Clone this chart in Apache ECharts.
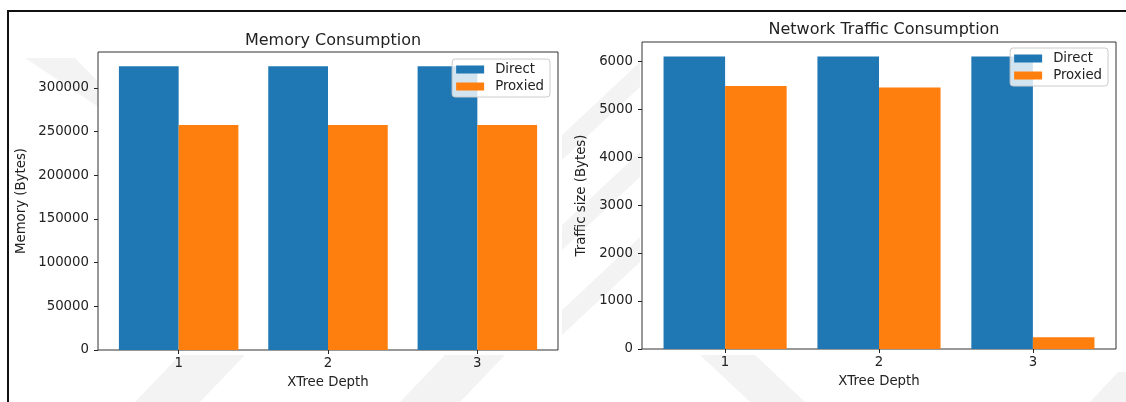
<!DOCTYPE html>
<html>
<head>
<meta charset="utf-8">
<script src="https://cdn.jsdelivr.net/npm/echarts@6/dist/echarts.min.js"></script>
<style>
  html, body { margin: 0; padding: 0; background: #fff; }
  #chart-container { width: 1126px; height: 402px; }
</style>
</head>
<body>
<div id="chart-container"></div>
<script>
// data
var depths = [1, 2, 3];
var memDirect = [325000, 325000, 325000];
var memProxied = [257700, 257700, 257700];
var netDirect = [6095, 6095, 6095];
var netProxied = [5485, 5452, 244];
var memTicks = [0, 50000, 100000, 150000, 200000, 250000, 300000];
var netTicks = [0, 1000, 2000, 3000, 4000, 5000, 6000];

var dom = document.getElementById('chart-container');
var myChart = echarts.init(dom, null, { renderer: 'canvas' });

var blue = '#1f77b4';
var orange = '#ff7f0e';
var ink = '#222';
var font = 'DejaVu Sans';

function pairs(xs, ys) {
  return xs.map(function (x, i) { return [x, ys[i]]; });
}

function xAxisFor(gridIndex) {
  return {
    type: 'value',
    gridIndex: gridIndex,
    min: 0.46,
    max: 3.54,
    name: 'XTree Depth',
    nameLocation: 'middle',
    nameGap: 26,
    nameTextStyle: { color: ink, fontFamily: font, fontSize: 13.3 },
    axisLine: { show: false },
    splitLine: { show: false },
    axisTick: { show: true, length: 4, customValues: depths, lineStyle: { color: ink } },
    axisLabel: {
      customValues: depths, margin: 7, color: ink, fontFamily: font, fontSize: 13.3,
      formatter: function (v) { return String(v); }
    }
  };
}

function yAxisFor(gridIndex, name, ticks, top, gap) {
  return {
    type: 'value',
    gridIndex: gridIndex,
    min: 0,
    max: top,
    name: name,
    nameLocation: 'middle',
    nameGap: gap,
    nameTextStyle: { color: ink, fontFamily: font, fontSize: 13.3 },
    axisLine: { show: false },
    splitLine: { show: false },
    axisTick: { show: true, length: 4, customValues: ticks, lineStyle: { color: ink } },
    axisLabel: {
      customValues: ticks, margin: 9, color: ink, fontFamily: font, fontSize: 13.3,
      formatter: function (v) { return String(v); }
    }
  };
}

function legendFor(right, top) {
  return {
    orient: 'vertical',
    right: right,
    top: top,
    itemWidth: 28,
    itemHeight: 8,
    itemGap: 4,
    icon: 'rect',
    padding: [4, 6, 4, 4],
    backgroundColor: 'rgba(255,255,255,0.8)',
    borderColor: '#cccccc',
    borderWidth: 1,
    borderRadius: 3,
    textStyle: { color: ink, fontFamily: font, fontSize: 13.3, padding: [0, 0, 0, 6] },
    data: ['Direct', 'Proxied']
  };
}

function bars(name, color, xi, data) {
  return {
    name: name,
    type: 'bar',
    xAxisIndex: xi,
    yAxisIndex: xi,
    barWidth: '40%',
    barGap: '0%',
    itemStyle: { color: color },
    data: data
  };
}

var memTop = Math.max.apply(null, memDirect.concat(memProxied)) * 1.05;
var netTop = Math.max.apply(null, netDirect.concat(netProxied)) * 1.05;

var shade = '#f3f3f3';
var option = {
  animation: false,
  textStyle: { fontFamily: font },
  graphic: [
    // faint watermark behind the plots
    { type: 'polygon', z: -1, shape: { points: [[25, 58], [75, 58], [110, 94], [100, 108]] }, style: { fill: shade } },
    { type: 'polygon', z: -1, shape: { points: [[135, 402], [200, 402], [245, 355], [180, 355]] }, style: { fill: shade } },
    { type: 'polygon', z: -1, shape: { points: [[400, 402], [460, 402], [505, 355], [445, 355]] }, style: { fill: shade } },
    { type: 'polygon', z: -1, shape: { points: [[700, 355], [755, 355], [805, 402], [750, 402]] }, style: { fill: shade } },
    { type: 'polygon', z: -1, shape: { points: [[1090, 402], [1126, 402], [1126, 372], [1118, 372]] }, style: { fill: shade } },
    { type: 'polygon', z: -1, shape: { points: [[562, 160], [562, 135], [640, 62], [640, 87]] }, style: { fill: shade } },
    { type: 'polygon', z: -1, shape: { points: [[562, 250], [562, 225], [640, 152], [640, 177]] }, style: { fill: shade } },
    { type: 'polygon', z: -1, shape: { points: [[562, 335], [562, 310], [640, 237], [640, 262]] }, style: { fill: shade } },
    // outer frame
    {
      type: 'rect', z: 10,
      shape: { x: 8, y: 11, width: 1200, height: 500 },
      style: { fill: 'none', stroke: '#111', lineWidth: 2 }
    }
  ],
  title: [
    {
      text: 'Memory Consumption', left: 328, top: 28, textAlign: 'center',
      textStyle: { color: ink, fontFamily: font, fontSize: 16, fontWeight: 'normal' }
    },
    {
      text: 'Network Traffic Consumption', left: 879, top: 17, textAlign: 'center',
      textStyle: { color: ink, fontFamily: font, fontSize: 16, fontWeight: 'normal' }
    }
  ],
  legend: [legendFor(576, 59), legendFor(18, 48)],
  grid: [
    { left: 98, top: 52, width: 460, height: 298, show: true, z: 1, backgroundColor: '#fff', borderColor: '#333', borderWidth: 1 },
    { left: 642, top: 42, width: 474, height: 307, show: true, z: 1, backgroundColor: '#fff', borderColor: '#333', borderWidth: 1 }
  ],
  xAxis: [xAxisFor(0), xAxisFor(1)],
  yAxis: [
    yAxisFor(0, 'Memory (Bytes)', memTicks, memTop, 70),
    yAxisFor(1, 'Traffic size (Bytes)', netTicks, netTop, 54)
  ],
  series: [
    bars('Direct', blue, 0, pairs(depths, memDirect)),
    bars('Proxied', orange, 0, pairs(depths, memProxied)),
    bars('Direct', blue, 1, pairs(depths, netDirect)),
    bars('Proxied', orange, 1, pairs(depths, netProxied))
  ]
};

myChart.setOption(option);
window.addEventListener('resize', myChart.resize);
</script>
</body>
</html>
